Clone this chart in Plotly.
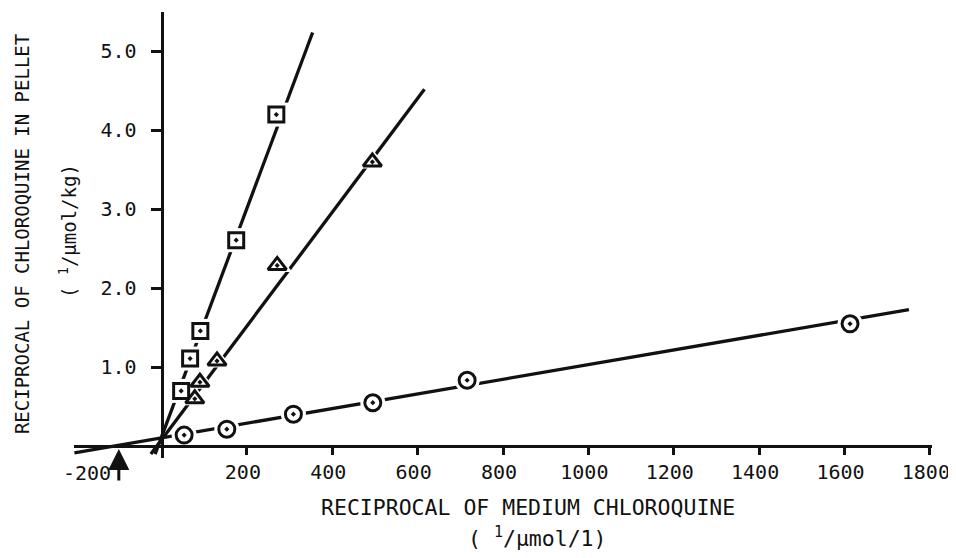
import plotly.graph_objects as go

# ---- data ----
sq_x = [46, 67, 91, 175, 269]
sq_y = [0.70, 1.11, 1.46, 2.61, 4.20]
tri_x = [78, 90, 130, 271, 494]
tri_y = [0.60, 0.81, 1.08, 2.29, 3.60]
circ_x = [53, 153, 309, 495, 716, 1613]
circ_y = [0.14, 0.215, 0.405, 0.55, 0.835, 1.55]

# fitted regression lines (end points)
sq_line_x = [-15, 354]
sq_line_y = [-0.10, 5.24]
tri_line_x = [-25, 616]
tri_line_y = [-0.10, 4.52]
circ_line_x = [-204, 1751]
circ_line_y = [-0.085, 1.73]

x_ticks = [200, 400, 600, 800, 1000, 1200, 1400, 1600, 1800]
x_tick_text = [str(v) for v in x_ticks]
y_ticks = [1, 2, 3, 4, 5]
y_tick_text = ["1.0", "2.0", "3.0", "4.0", "5.0"]
x_extra_label = -200
arrow_x = -100

X_RANGE = [-205, 1805]
Y_RANGE = [-0.15, 5.5]

FONT = "DejaVu Sans Mono"
BLACK = "#111111"

fig = go.Figure()

for lx, ly in [(sq_line_x, sq_line_y), (tri_line_x, tri_line_y), (circ_line_x, circ_line_y)]:
    fig.add_trace(go.Scatter(x=lx, y=ly, mode="lines",
                             line=dict(color=BLACK, width=3.3), hoverinfo="skip",
                             showlegend=False))

# white halos to break lines around symbols
for xs, ys, sym, sz in [(sq_x, sq_y, "square", 24), (tri_x, tri_y, "triangle-up", 26),
                        (circ_x, circ_y, "circle", 25)]:
    fig.add_trace(go.Scatter(x=xs, y=ys, mode="markers",
                             marker=dict(symbol=sym, size=sz, color="white",
                                         line=dict(width=0)),
                             hoverinfo="skip", showlegend=False))

for xs, ys, sym, sz in [(sq_x, sq_y, "square-open-dot", 15),
                        (tri_x, tri_y, "triangle-up-open-dot", 16),
                        (circ_x, circ_y, "circle-open-dot", 16)]:
    fig.add_trace(go.Scatter(x=xs, y=ys, mode="markers",
                             marker=dict(symbol=sym, size=sz, color=BLACK,
                                         line=dict(color=BLACK, width=3)),
                             showlegend=False))

x_pos = (0 - Y_RANGE[0]) / (Y_RANGE[1] - Y_RANGE[0])
y_pos = (0 - X_RANGE[0]) / (X_RANGE[1] - X_RANGE[0])

# the page body adds an 8px offset, so margins are shifted to compensate
fig.update_layout(
    width=956, height=558,
    margin=dict(l=66, r=32, t=4, b=108, autoexpand=False),
    paper_bgcolor="white", plot_bgcolor="white",
    font=dict(family=FONT, color=BLACK, size=19),
    xaxis=dict(range=X_RANGE, showgrid=False, zeroline=False, automargin=False,
               showline=True, linecolor=BLACK, linewidth=3,
               anchor="free", position=x_pos,
               tickmode="array", tickvals=x_ticks, ticktext=x_tick_text,
               ticks="outside", ticklen=7, tickwidth=3, tickcolor=BLACK,
               ticklabelshift=-4,
               tickfont=dict(family=FONT, size=20, color=BLACK)),
    yaxis=dict(range=Y_RANGE, showgrid=False, zeroline=False, automargin=False,
               showline=True, linecolor=BLACK, linewidth=3,
               anchor="free", position=y_pos,
               tickmode="array", tickvals=y_ticks, ticktext=y_tick_text,
               ticks="outside", ticklen=10, tickwidth=3, tickcolor=BLACK,
               ticklabelstandoff=10,
               tickfont=dict(family=FONT, size=20, color=BLACK)),
)

# extra -200 label and arrow marking the x-intercept
fig.add_annotation(x=x_extra_label + 25, y=0, yshift=-27, text=str(x_extra_label),
                   showarrow=False, font=dict(family=FONT, size=20, color=BLACK))
fig.add_annotation(x=arrow_x, y=-0.035, ax=0, ay=33, showarrow=True,
                   arrowhead=2, arrowsize=1.4, arrowwidth=3, arrowcolor=BLACK, text="")

# axis titles
fig.add_annotation(xref="paper", yref="paper", x=0.529, y=-0.11,
                   text="RECIPROCAL OF MEDIUM CHLOROQUINE", showarrow=False,
                   xanchor="center", yanchor="middle",
                   font=dict(family=FONT, size=21.5, color=BLACK))
fig.add_annotation(xref="paper", yref="paper", x=0.540, y=-0.177,
                   text="( <sup>1</sup>/µmol/1)", showarrow=False,
                   xanchor="center", yanchor="middle",
                   font=dict(family=FONT, size=21.5, color=BLACK))
fig.add_annotation(xref="paper", yref="paper", x=-0.0606, y=0.502,
                   text="RECIPROCAL OF CHLOROQUINE IN PELLET", showarrow=False,
                   textangle=-90, xanchor="center", yanchor="middle",
                   font=dict(family=FONT, size=19, color=BLACK))
fig.add_annotation(xref="paper", yref="paper", x=-0.007, y=0.509,
                   text="( <sup>1</sup>/µmol/kg)", showarrow=False,
                   textangle=-90, xanchor="center", yanchor="middle",
                   font=dict(family=FONT, size=19, color=BLACK))

fig.write_html("out.html")
